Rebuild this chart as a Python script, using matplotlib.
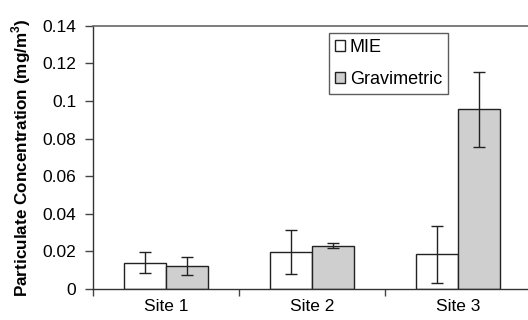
import matplotlib
matplotlib.use('Agg')
import matplotlib.pyplot as plt
from matplotlib.ticker import FixedLocator, FuncFormatter
import numpy as np

sites = ['Site 1', 'Site 2', 'Site 3']
mie = [0.0140, 0.0198, 0.0184]
mie_err = [0.0055, 0.0117, 0.0152]
grav = [0.0122, 0.0229, 0.0955]
grav_err = [0.0049, 0.0013, 0.0200]

plt.rcParams['font.family'] = ['Liberation Sans', 'DejaVu Sans']

fig = plt.figure(figsize=(5.28, 3.2), dpi=100)
ax = fig.add_axes([93/528, 1-289/320, 438/528, 263.3/320])

x = np.arange(len(sites))
w = 0.2877
edge = '#222222'
ekw = dict(elinewidth=1, capthick=1, ecolor='#222222')
ax.bar(x - w/2, mie, w, yerr=mie_err, color='white', edgecolor=edge,
       linewidth=1, capsize=4.5, error_kw=ekw, label='MIE')
ax.bar(x + w/2, grav, w, yerr=grav_err, color='#cfcfcf', edgecolor=edge,
       linewidth=1, capsize=4.5, error_kw=ekw, label='Gravimetric')

ax.set_xlim(-0.5, 2.5)
ax.set_ylim(0, 0.14)
ax.set_yticks(np.arange(0, 0.1401, 0.02))
ax.yaxis.set_major_formatter(FuncFormatter(lambda v, p: '%g' % round(v, 3)))
ax.set_xticks(x)
ax.set_xticklabels(sites)
ax.xaxis.set_minor_locator(FixedLocator([-0.5, 0.5, 1.5, 2.5]))
ax.tick_params(axis='x', which='major', length=0, labelsize=12.5, pad=7)
ax.tick_params(axis='x', which='minor', length=5, direction='out', width=1, color='#444444')
ax.tick_params(axis='y', length=6, direction='out', width=1, labelsize=12.5,
               color='#444444', pad=6)

for s in ['left', 'bottom']:
    ax.spines[s].set_color('#333333')
    ax.spines[s].set_linewidth(1)
ax.spines['top'].set_color('#666666')
ax.spines['top'].set_linewidth(1.2)
ax.spines['right'].set_visible(False)

ax.set_ylabel('Particulate Concentration (mg/m$^\\mathregular{3}$)', fontsize=12.3,
              fontweight='bold', labelpad=7)

leg = ax.legend(loc='upper left', bbox_to_anchor=((329-93)/438, (289-33)/263.3),
                frameon=True, fancybox=False, edgecolor='#333333', fontsize=13,
                handlelength=0.55, handleheight=0.55, handletextpad=0.25,
                borderpad=0.35, labelspacing=0.8, borderaxespad=0)
leg.get_frame().set_linewidth(1)

fig.savefig('out.png', dpi=100)
